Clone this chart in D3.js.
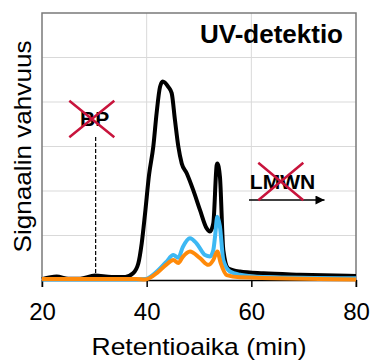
<!DOCTYPE html>
<html>
<head>
<meta charset="utf-8">
<script src="https://cdn.jsdelivr.net/npm/d3@7"></script>
<style>
  body { margin: 0; background: #fff; }
  text { font-family: "Liberation Sans", Arial, sans-serif; }
</style>
</head>
<body>
<div id="chart"></div>
<script>
// retention time (min) and signal
var blackT = [20, 22.8, 25, 27.3, 30.1, 33.3, 35.9, 37.4, 38.4, 39.05, 39.7, 40.45, 41.27, 41.9, 42.55, 43.06, 44.13, 44.78, 45.4, 46.05, 46.7, 47.65, 48.9, 50.2, 51.47, 52.1, 52.73, 53.38, 53.5, 54.0, 54.65, 55.6, 57.8, 62.3, 69.3, 80];
var blackV = [0.02, 0.08, 0.03, 0.03, 0.10, 0.07, 0.07, 0.15, 0.37, 0.82, 1.5, 2.36, 3.0, 3.75, 4.34, 4.46, 4.34, 4.2, 3.6, 3.0, 2.62, 2.4, 2.02, 1.57, 1.16, 1.09, 1.27, 2.58, 2.62, 2.32, 0.67, 0.26, 0.19, 0.15, 0.12, 0.09];

var blueT = [20, 30, 38, 39.7, 42.2, 43.7, 45.1, 46.05, 46.9, 48.28, 49.56, 51.15, 52.1, 52.73, 53.06, 53.5, 54.0, 54.65, 55.9, 57.8, 62.2, 80];
var blueV = [0.01, 0.01, 0.01, 0.02, 0.22, 0.40, 0.56, 0.50, 0.74, 0.94, 0.82, 0.56, 0.53, 0.67, 0.97, 1.42, 1.2, 0.45, 0.19, 0.12, 0.07, 0.04];

var orangeT = [20, 30, 38, 39.7, 42.2, 43.7, 45.1, 46.05, 46.9, 48.28, 50.2, 51.8, 52.73, 53.5, 54.15, 55.3, 57.8, 80];
var orangeV = [0.02, 0.02, 0.02, 0.01, 0.18, 0.34, 0.45, 0.38, 0.52, 0.64, 0.49, 0.34, 0.45, 0.64, 0.38, 0.11, 0.06, 0.01];

var xTicks = [20, 40, 60, 80];
var yGrid = [1, 2, 3, 4, 5];

var svgWidth = 371;
var svgHeight = 361;
var margin = { top: 13, right: 15, bottom: 81, left: 42 };
var width = svgWidth - margin.left - margin.right;
var height = svgHeight - margin.top - margin.bottom;

var svg = d3.select("#chart")
  .append("svg")
  .attr("width", svgWidth)
  .attr("height", svgHeight);

var chartGroup = svg.append("g")
  .attr("transform", `translate(${margin.left}, ${margin.top})`);

var x = d3.scaleLinear().domain([20, 80]).range([0, width]);
var y = d3.scaleLinear().domain([0, 6]).range([height, 0]);

// grid
chartGroup.selectAll(".hgrid")
  .data(yGrid)
  .enter()
  .append("line")
  .attr("x1", 0).attr("x2", width)
  .attr("y1", d => y(d)).attr("y2", d => y(d))
  .attr("stroke", "#d9d9d9").attr("stroke-width", 1);

chartGroup.selectAll(".vgrid")
  .data([40, 60])
  .enter()
  .append("line")
  .attr("x1", d => x(d)).attr("x2", d => x(d))
  .attr("y1", 0).attr("y2", height)
  .attr("stroke", "#d9d9d9").attr("stroke-width", 1);

// frame (left, top, right)
chartGroup.append("path")
  .attr("d", `M0,${height + 7}V0H${width}V${height + 7}`)
  .attr("fill", "none")
  .attr("stroke", "#7a7a7a")
  .attr("stroke-width", 1.5);

// x axis
var bottomAxis = d3.axisBottom(x)
  .tickValues(xTicks)
  .tickSize(7)
  .tickSizeOuter(0)
  .tickPadding(16);

var xAxis = chartGroup.append("g")
  .attr("transform", `translate(0, ${height})`)
  .call(bottomAxis);
xAxis.select(".domain").attr("stroke", "#000").attr("stroke-width", 1.5);
xAxis.selectAll(".tick line").attr("stroke", "#000").attr("stroke-width", 1.5);
xAxis.selectAll(".tick text")
  .attr("font-size", 24)
  .attr("font-family", "Liberation Sans, Arial, sans-serif")
  .attr("fill", "#000");

// BP marker: dashed line at 30 min
chartGroup.append("line")
  .attr("x1", x(30.25)).attr("x2", x(30.25))
  .attr("y1", 124).attr("y2", y(0.1))
  .attr("stroke", "#000")
  .attr("stroke-width", 1.2)
  .attr("stroke-dasharray", "4,2");

// curves
var line = d3.line()
  .x(d => x(d[0]))
  .y(d => y(d[1]))
  .curve(d3.curveMonotoneX);

var series = [
  { t: blackT, v: blackV, color: "#000000" },
  { t: blueT, v: blueV, color: "#3db8f3" },
  { t: orangeT, v: orangeV, color: "#ff8a0a" }
];

series.forEach(function(s) {
  chartGroup.append("path")
    .datum(s.t.map((t, i) => [t, s.v[i]]))
    .attr("d", line)
    .attr("fill", "none")
    .attr("stroke", s.color)
    .attr("stroke-width", 4)
    .attr("stroke-linejoin", "round");
});

// labels
chartGroup.append("text")
  .attr("x", 301)
  .attr("y", 30)
  .attr("text-anchor", "end")
  .attr("font-size", 26)
  .attr("font-weight", "bold")
  .text("UV-detektio");

var red = "#c8143c";

function crossOut(cx, cy, w, h) {
  chartGroup.append("path")
    .attr("d", `M${cx - w / 2},${cy - h / 2}L${cx + w / 2},${cy + h / 2}M${cx + w / 2},${cy - h / 2}L${cx - w / 2},${cy + h / 2}`)
    .attr("stroke", red)
    .attr("stroke-width", 2.5)
    .attr("fill", "none");
}

chartGroup.append("text")
  .attr("x", 52.7)
  .attr("y", 113)
  .attr("text-anchor", "middle")
  .attr("font-size", 21)
  .attr("font-weight", "bold")
  .text("BP");
crossOut(49.8, 106, 45, 36.6);

chartGroup.append("text")
  .attr("x", 240.5)
  .attr("y", 175.5)
  .attr("text-anchor", "middle")
  .attr("font-size", 21)
  .attr("font-weight", "bold")
  .text("LMWN");

// arrow under LMWN
svg.append("defs").append("marker")
  .attr("id", "arrow")
  .attr("viewBox", "0 0 10 10")
  .attr("refX", 10).attr("refY", 5)
  .attr("markerWidth", 11).attr("markerHeight", 9)
  .attr("markerUnits", "userSpaceOnUse")
  .attr("orient", "auto")
  .append("path")
  .attr("d", "M0,0L10,5L0,10Z")
  .attr("fill", "#000");

chartGroup.append("line")
  .attr("x1", 207).attr("x2", 282.5)
  .attr("y1", 187).attr("y2", 187)
  .attr("stroke", "#000")
  .attr("stroke-width", 1.5)
  .attr("marker-end", "url(#arrow)");

crossOut(238.8, 168.5, 45, 37.5);

// axis titles
svg.append("text")
  .attr("x", margin.left + width / 2)
  .attr("y", 355)
  .attr("text-anchor", "middle")
  .attr("font-size", 24)
  .attr("textLength", 215)
  .attr("lengthAdjust", "spacingAndGlyphs")
  .text("Retentioaika (min)");

svg.append("text")
  .attr("transform", `translate(31, ${margin.top + height / 2}) rotate(-90)`)
  .attr("text-anchor", "middle")
  .attr("font-size", 24)
  .attr("textLength", 212)
  .attr("lengthAdjust", "spacingAndGlyphs")
  .text("Signaalin vahvuus");
</script>
</body>
</html>
